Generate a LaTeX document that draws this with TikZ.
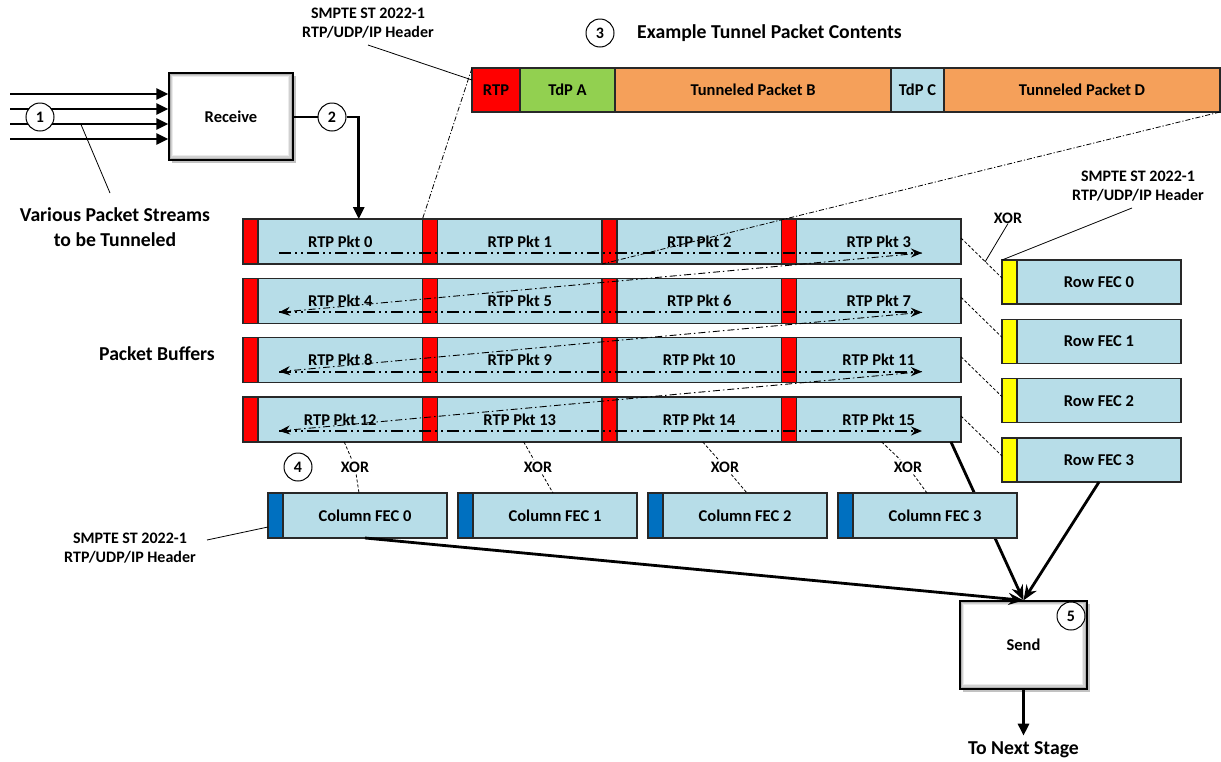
\documentclass[tikz,border=0pt]{standalone}
\usepackage{fontspec}
\setmainfont{Carlito}
\usetikzlibrary{arrows.meta,calc,shadows}
\definecolor{pktblue}{RGB}{183,221,232}
\definecolor{hdrred}{RGB}{255,0,0}
\definecolor{tdpgreen}{RGB}{146,208,80}
\definecolor{tunorange}{RGB}{245,160,90}
\definecolor{fecyellow}{RGB}{255,255,0}
\definecolor{fecblue}{RGB}{0,112,192}
\definecolor{edgegray}{RGB}{40,40,40}
\newcommand\boxfont{\fontsize{16.5}{19}\selectfont\bfseries}
\newcommand\bigfont{\fontsize{19.7}{25}\selectfont\bfseries}
\newcommand\notefont{\fontsize{16}{19}\selectfont\bfseries}
\begin{document}
\begin{tikzpicture}[x=1pt,y=-1pt,
  seg/.style={draw=edgegray, line width=1.2pt, inner sep=0pt, outer sep=0pt, font=\boxfont, anchor=west},
  procbox/.style={draw=black, line width=1.3pt, fill=black!30,
    path picture={
      \fill[black!18] ([xshift=1.5pt,yshift=2.5pt]path picture bounding box.south west) rectangle ([xshift=-2.5pt,yshift=-1.5pt]path picture bounding box.north east);
      \fill[black!8] ([xshift=2.5pt,yshift=4pt]path picture bounding box.south west) rectangle ([xshift=-4pt,yshift=-2.5pt]path picture bounding box.north east);
      \fill[white] ([xshift=3.5pt,yshift=5.5pt]path picture bounding box.south west) rectangle ([xshift=-5.5pt,yshift=-3.5pt]path picture bounding box.north east);
    },
    drop shadow={shadow xshift=3pt, shadow yshift=-3pt, fill=black!40, opacity=0.6}, font=\boxfont},
  numc/.style={circle, draw=black, line width=1pt, fill=white, minimum size=28pt, inner sep=0pt, font=\notefont},
  lbl/.style={font=\notefont, align=center, inner sep=0pt},
  biglbl/.style={font=\bigfont, align=center, inner sep=0pt},
  bigarrow/.style={line width=2.8pt, -{Triangle[length=12pt,width=11pt]}},
  sendarrow/.style={line width=2.8pt, -{Stealth[length=15pt,width=12pt]}},
  rowflow/.style={line width=1.7pt, dash pattern=on 12pt off 4pt on 2pt off 4pt on 2pt off 4pt, -{Stealth[length=11pt,width=9pt]}},
  diagflow/.style={line width=0.9pt, dash pattern=on 7pt off 3pt on 1.5pt off 3pt, -{Stealth[length=11pt,width=9pt]}},
  tunline/.style={line width=0.8pt, dash pattern=on 5pt off 2pt on 1.2pt off 2pt},
  xordash/.style={line width=0.8pt, dash pattern=on 3pt off 2pt},
  callout/.style={line width=0.8pt}
]
\useasboundingbox (0,0) rectangle (1221,761);

% process boxes
\node[procbox, minimum width=124pt, minimum height=87pt] (recv) at (231,116.5) {Receive};
\node[procbox, minimum width=127pt, minimum height=88pt] (send) at (1023.5,645) {Send};

% packet buffers
\foreach \r in {0,...,3}{
  \foreach \c in {0,...,3}{
    \pgfmathtruncatemacro\n{4*\r+\c}
    \pgfmathsetmacro\xh{243+179.5*\c}
    \pgfmathsetmacro\xb{258+179.5*\c}
    \pgfmathsetmacro\yc{241.5+59.33*\r}
    \node[seg, fill=hdrred, minimum width=15pt, minimum height=45pt] (h\n) at (\xh,\yc) {};
    \node[seg, fill=pktblue, minimum width=164.5pt, minimum height=45pt] (p\n) at (\xb,\yc) {RTP Pkt \n};
  }
}

% packet 15 to send (behind column FEC 3)
\draw[sendarrow] ($(p15.south east)+(-10,0)$) -- (send.north);

% row FEC
\foreach \r in {0,...,3}{
  \pgfmathsetmacro\yc{282+59.33*\r}
  \node[seg, fill=fecyellow, minimum width=15pt, minimum height=44pt] (rh\r) at (1002,\yc) {};
  \node[seg, fill=pktblue, minimum width=164pt, minimum height=44pt] (rf\r) at (1017,\yc) {Row FEC \r};
}

% column FEC
\foreach \c in {0,...,3}{
  \pgfmathsetmacro\xh{268+190*\c}
  \pgfmathsetmacro\xb{283+190*\c}
  \node[seg, fill=fecblue, minimum width=15pt, minimum height=45pt] (ch\c) at (\xh,515.5) {};
  \node[seg, fill=pktblue, minimum width=164pt, minimum height=45pt] (cf\c) at (\xb,515.5) {Column FEC \c};
}

% tunnel packet
\node[seg, fill=hdrred, minimum width=48pt, minimum height=44pt] (tR) at (472,90) {RTP};
\node[seg, fill=tdpgreen, minimum width=95pt, minimum height=44pt] (tA) at (520,90) {TdP A};
\node[seg, fill=tunorange, minimum width=276pt, minimum height=44pt] (tB) at (615,90) {Tunneled Packet B};
\node[seg, fill=pktblue, minimum width=53pt, minimum height=44pt] (tC) at (891,90) {TdP C};
\node[seg, fill=tunorange, minimum width=276pt, minimum height=44pt] (tD) at (944,90) {Tunneled Packet D};

% flow through buffers
\foreach \r in {0,...,3}{
  \pgfmathsetmacro\yl{253+59.33*\r}
  \coordinate (L\r) at (279,\yl);
  \coordinate (R\r) at (922,\yl);
}
\foreach \r in {0,...,3}{ \draw[rowflow] (L\r) -- (R\r); }
\foreach \a/\b in {0/1,1/2,2/3}{ \draw[diagflow] (R\a) -- (L\b); }

% tunnel expansion lines
\draw[tunline] (tR.north west) -- (h1.north west);
\draw[tunline] (tD.south east) -- (p1.south east);

% inputs
\foreach \i/\y in {1/94,2/109,3/124,4/139}{
  \coordinate (in\i) at (10,\y);
  \draw[bigarrow] (in\i) -- (in\i -| recv.west);
}
\node[numc] (n1) at (40,117) {1};
\coordinate (c1a) at (81,124.5);
\coordinate (c1b) at (110,193);
\draw[callout] (c1a) -- (c1b);
\node[biglbl] (vps) at (115,227.5) {Various Packet Streams\\to be Tunneled};

% receive to buffers
\node[numc] (n2) at (332,117) {2};
\draw[line width=2.8pt] (recv.east |- n2) -- (n2.west);
\draw[bigarrow] (n2.east) -| ($(p0.north)+(18.5,0)$);

% labels top
\node[lbl] (smT) at (368,23.5) {SMPTE ST 2022-1\\RTP/UDP/IP Header};
\coordinate (cTa) at (368,45);
\draw[callout] (cTa) -- ($(tR.north west)+(0,12)$);
\node[numc] (n3) at (600,33) {3};
\node[biglbl, anchor=west] (ex) at (637,33) {Example Tunnel Packet Contents};

\node[biglbl] (pb) at (157,354) {Packet Buffers};

% row FEC connectors
\foreach \r in {0,...,3}{
  \pgfmathtruncatemacro\m{4*\r+3}
  \draw[xordash] ($(p\m.east)+(0,-3.5)$) -- ($(rh\r.west)+(0,-4)$);
}
\node[lbl] (xorR) at (1008,218) {XOR};
\coordinate (cXr) at (985,262);
\draw[callout] (xorR.south) -- (cXr);
\node[lbl] (smR) at (1138,186.5) {SMPTE ST 2022-1\\RTP/UDP/IP Header};
\coordinate (cRa) at (1132,208);
\draw[callout] (cRa) -- (rh0.north west);

% column FEC connectors
\foreach \c/\x/\s/\e in {0/355/4/-6,1/538/4/-2,2/725/3.5/2,3/908/3/-8}{
  \pgfmathtruncatemacro\m{12+\c}
  \node[lbl, inner sep=2pt] (xor\c) at (\x,467) {XOR};
  \draw[xordash] ($(p\m.south)+(\s,0)$) -- (xor\c);
  \draw[xordash] (xor\c) -- ($(cf\c.north)+(\e,0)$);
}
\node[numc] (n4) at (298,467) {4};
\node[lbl] (smL) at (130,548) {SMPTE ST 2022-1\\RTP/UDP/IP Header};
\coordinate (cLa) at (207,540);
\draw[callout] (cLa) -- ($(ch0.west)+(0,11.5)$);

% to send
\draw[sendarrow] (cf0.south) -- (send.north);
\draw[sendarrow] (rf3.south) -- (send.north);
\node[numc] (n5) at (1071,616) {5};
\node[biglbl] (nxt) at (1023.5,750) {To Next Stage};
\draw[bigarrow] (send.south) -- ($(nxt.north)+(0,-6)$);
\end{tikzpicture}
\end{document}
